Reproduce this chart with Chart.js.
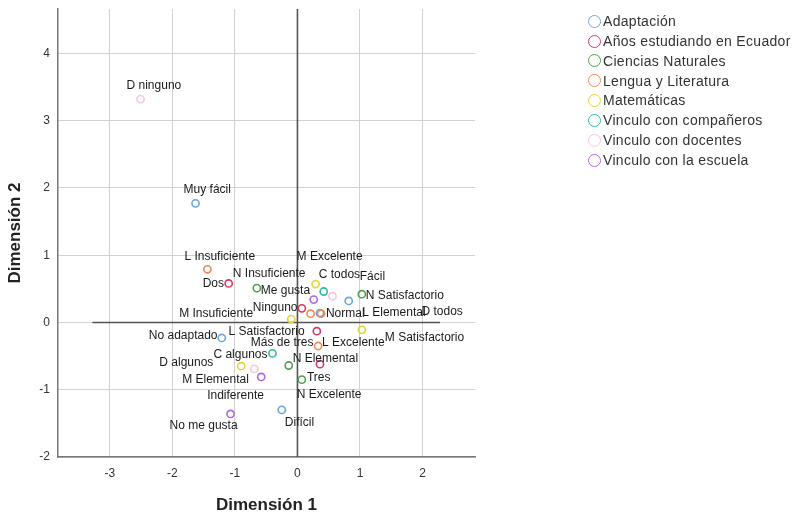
<!DOCTYPE html>
<html lang="es">
<head>
<meta charset="UTF-8">
<title>Dimensión 1 y Dimensión 2</title>
<script src="https://cdn.jsdelivr.net/npm/chart.js"></script>
<style>
  body { margin: 0; background: #fff; font-family: "Liberation Sans", Arial, sans-serif; }
  .wrap { position: relative; width: 792px; height: 517px; }
  #legend { position: absolute; left: 588px; top: 12px; margin: 0; padding: 0; list-style: none; }
  #legend li { height: 19.85px; line-height: 19.85px; font-size: 14px; letter-spacing: 0.3px; color: #333; white-space: nowrap; }
  #legend span { display: inline-block; width: 11px; height: 11px; border: 1.6px solid; border-radius: 50%; vertical-align: middle; margin: -2px 2px 0 0; }
</style>
</head>
<body>
<div class="wrap">
  <canvas id="chart"></canvas>
  <ul id="legend"></ul>
</div>
<script>
// categorias (variables) y sus puntos
const series = ["Adaptación", "Años estudiando en Ecuador", "Ciencias Naturales", "Lengua y Literatura",
  "Matemáticas", "Vinculo con compañeros", "Vinculo con docentes", "Vinculo con la escuela"];

const adaptacionLabels = ["Muy fácil", "Fácil", "Normal", "Difícil", "No adaptado"];
const adaptacionX = [-1.63, 0.82, 0.36, -0.25, -1.21];
const adaptacionY = [1.77, 0.32, 0.14, -1.30, -0.23];

const anosLabels = ["Dos", "Ninguno", "Más de tres", "Tres"];
const anosX = [-1.10, 0.07, 0.31, 0.36];
const anosY = [0.58, 0.21, -0.13, -0.62];

const cienciasLabels = ["N Insuficiente", "N Satisfactorio", "N Elemental", "N Excelente"];
const cienciasX = [-0.65, 1.03, -0.14, 0.07];
const cienciasY = [0.51, 0.42, -0.64, -0.85];

const lenguaLabels = ["L Insuficiente", "L Satisfactorio", "L Elemental", "L Excelente"];
const lenguaX = [-1.44, 0.21, 0.38, 0.33];
const lenguaY = [0.79, 0.13, 0.13, -0.35];

const mateLabels = ["M Excelente", "M Insuficiente", "M Satisfactorio", "M Elemental"];
const mateX = [0.29, -0.10, 1.03, -0.90];
const mateY = [0.57, 0.05, -0.11, -0.65];

const companerosLabels = ["C todos", "C algunos"];
const companerosX = [0.42, -0.40];
const companerosY = [0.46, -0.46];

const docentesLabels = ["D ninguno", "D todos", "D algunos"];
const docentesX = [-2.51, 0.56, -0.69];
const docentesY = [3.32, 0.39, -0.69];

const escuelaLabels = ["Me gusta", "Indiferente", "No me gusta"];
const escuelaX = [0.26, -0.58, -1.07];
const escuelaY = [0.34, -0.81, -1.36];

const xTicks = [-3, -2, -1, 0, 1, 2];
const yTicks = [-2, -1, 0, 1, 2, 3, 4];

// estilos
const colors = ["#6aa6dc", "#d63a62", "#4f9d4f", "#ef8a55", "#e2d43a", "#2fb9a2", "#f6c6d8", "#b066e0"];
const FONT = '"Liberation Sans", Arial, sans-serif';

// donde va cada etiqueta respecto a su punto (px)
const labelOffsets = {
  "D ninguno": [-14, -13], "Muy fácil": [-12, -14], "L Insuficiente": [-23, -13], "Dos": [-26, 0],
  "N Insuficiente": [-24, -14], "Me gusta": [-53, -9], "M Excelente": [-19, -27], "C todos": [-5, -17],
  "Fácil": [11, -24], "N Satisfactorio": [4, 1], "Ninguno": [-49, -1], "Normal": [6, 1],
  "L Elemental": [41, -1], "D todos": [89, 15], "M Insuficiente": [-112, -5], "L Satisfactorio": [-82, 18],
  "No adaptado": [-73, -2], "Más de tres": [-66, 11], "L Excelente": [4, -3], "M Satisfactorio": [23, 8],
  "C algunos": [-59, 1], "N Elemental": [4, -7], "D algunos": [-95, -6], "M Elemental": [-59, 13],
  "Tres": [-13, 14], "Indiferente": [-54, 19], "N Excelente": [-5, 15], "No me gusta": [-61, 12],
  "Difícil": [3, 13]
};

const groups = [
  [adaptacionLabels, adaptacionX, adaptacionY],
  [anosLabels, anosX, anosY],
  [cienciasLabels, cienciasX, cienciasY],
  [lenguaLabels, lenguaX, lenguaY],
  [mateLabels, mateX, mateY],
  [companerosLabels, companerosX, companerosY],
  [docentesLabels, docentesX, docentesY],
  [escuelaLabels, escuelaX, escuelaY]
];

const datasets = groups.map((g, i) => ({
  label: series[i],
  data: g[1].map((x, j) => ({ x: x, y: g[2][j], name: g[0][j] })),
  borderColor: colors[i],
  backgroundColor: "rgba(0,0,0,0)",
  pointRadius: 3.6,
  pointBorderWidth: 1.6,
  order: i === 0 ? 1 : 0
}));

// lineas de referencia en 0
const refHoriz = [-3.28, 2.28];
const refLines = {
  id: "refLines",
  beforeDatasetsDraw(chart) {
    const { ctx, chartArea, scales: { x, y } } = chart;
    ctx.save();
    ctx.strokeStyle = "#555";
    ctx.lineWidth = 1.6;
    ctx.beginPath();
    ctx.moveTo(x.getPixelForValue(0), chartArea.top);
    ctx.lineTo(x.getPixelForValue(0), chartArea.bottom);
    ctx.moveTo(x.getPixelForValue(refHoriz[0]), y.getPixelForValue(0));
    ctx.lineTo(x.getPixelForValue(refHoriz[1]), y.getPixelForValue(0));
    ctx.stroke();
    ctx.restore();
  }
};

const pointLabels = {
  id: "pointLabels",
  afterDatasetsDraw(chart) {
    const ctx = chart.ctx;
    ctx.save();
    ctx.font = "12px " + FONT;
    ctx.fillStyle = "#1a1a1a";
    ctx.textAlign = "left";
    ctx.textBaseline = "middle";
    chart.data.datasets.forEach((ds, i) => {
      chart.getDatasetMeta(i).data.forEach((pt, j) => {
        const name = ds.data[j].name;
        const off = labelOffsets[name] || [5, 0];
        ctx.fillText(name, pt.x + off[0], pt.y + off[1]);
      });
    });
    ctx.restore();
  }
};

new Chart(document.getElementById("chart"), {
  type: "scatter",
  data: { datasets: datasets },
  options: {
    responsive: true,
    maintainAspectRatio: false,
    animation: false,
    events: [],
    layout: { padding: { left: 0, top: 9, right: 317, bottom: 0 } },
    plugins: { legend: { display: false }, tooltip: { enabled: false } },
    scales: {
      x: {
        type: "linear",
        min: -3.83,
        max: 2.84,
        afterFit: s => { s.height = 60; s.paddingLeft = 0; s.paddingRight = 0; },
        afterBuildTicks: s => { s.ticks = xTicks.map(v => ({ value: v })); },
        grid: { color: "#d2d2d2", lineWidth: 1, drawTicks: false },
        border: { color: "#777", width: 1.5 },
        ticks: { padding: 9, color: "#333", font: { size: 12, family: FONT } },
        title: { display: true, text: "Dimensión 1", color: "#222", padding: { top: 0, bottom: 1 },
          font: { size: 17, weight: "bold", family: FONT } }
      },
      y: {
        type: "linear",
        min: -2,
        max: 4.66,
        afterFit: s => { s.width = 58; s.paddingTop = 0; s.paddingBottom = 0; },
        afterBuildTicks: s => { s.ticks = yTicks.map(v => ({ value: v })); },
        grid: { color: "#d2d2d2", lineWidth: 1, drawTicks: false },
        border: { color: "#777", width: 1.5 },
        ticks: { padding: 8, color: "#333", font: { size: 12, family: FONT } },
        title: { display: true, text: "Dimensión 2", color: "#222", padding: { top: 5, bottom: 0 },
          font: { size: 17, weight: "bold", family: FONT } }
      }
    }
  },
  plugins: [refLines, pointLabels]
});

// leyenda
const legend = document.getElementById("legend");
series.forEach((name, i) => {
  const li = document.createElement("li");
  const sw = document.createElement("span");
  sw.style.borderColor = colors[i];
  li.appendChild(sw);
  li.appendChild(document.createTextNode(name));
  legend.appendChild(li);
});
</script>
</body>
</html>
